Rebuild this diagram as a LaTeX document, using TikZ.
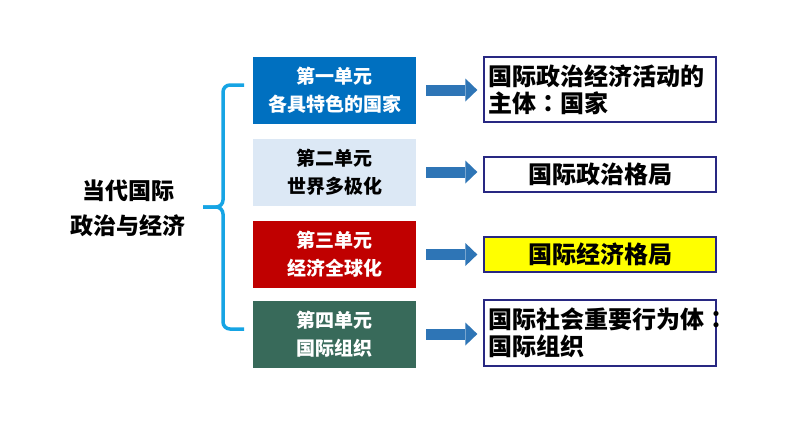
\documentclass[tikz,border=0pt]{standalone}
\usepackage{fontspec}
\setmainfont{Noto Sans CJK SC}
\newfontfamily\tcfont{Noto Sans CJK TC}
\usetikzlibrary{arrows.meta}
\definecolor{unitblue}{RGB}{0,112,192}
\definecolor{unitpale}{RGB}{220,232,245}
\definecolor{unitred}{RGB}{192,0,0}
\definecolor{unitgreen}{RGB}{56,106,90}
\definecolor{bracecyan}{RGB}{22,164,228}
\definecolor{arrowblue}{RGB}{46,117,182}
\definecolor{framenavy}{RGB}{40,40,130}
\definecolor{markyellow}{RGB}{255,255,0}
\newcommand{\midcolon}{{\tcfont ：}}

\begin{document}
\begin{tikzpicture}[x=1pt,y=-1pt,
  unit/.style={minimum width=163pt, minimum height=67pt, inner sep=0pt, align=center,
    font=\fontsize{19}{28}\selectfont\bfseries},
  topic/.style={draw=framenavy, line width=1.3pt, text width=224pt, inner xsep=4pt, inner ysep=0pt,
    font=\fontsize{24}{27}\selectfont\bfseries},
  link/.style={arrowblue, line width=11pt, -{Triangle[length=12pt,width=23pt,line width=0pt]},
    shorten <=10pt, shorten >=6pt},
  bracket/.style={bracecyan, line width=3.5pt, rounded corners=7pt}]
  \useasboundingbox (0,0) rectangle (794,447);
  % title
  \node[font=\fontsize{23}{35}\selectfont\bfseries, align=center] (title) at (128,208.5) {当代国际\\政治与经济};
  % brace
  \draw[bracket] (244,85) -- (223,85) -- (223,207) -- (203,207);
  \draw[bracket] (203,207) -- (223,207) -- (223,329) -- (244,329);
  % units
  \foreach \n/\y/\c/\t/\lab in {1/90/unitblue/white/{第一单元\\各具特色的国家},
                                2/172/unitpale/black/{第二单元\\世界多极化},
                                3/254.5/unitred/white/{第三单元\\经济全球化},
                                4/334/unitgreen/white/{第四单元\\国际组织}}
  {
    \node[unit, fill=\c, text=\t] (u\n) at (334.5,\y) {\lab};
  }
  % topics
  \node[topic, minimum height=65pt, align=left] (r1) at (600,89.5) {国际政治经济活动的\\主体\midcolon 国家};
  \node[topic, minimum height=35pt, align=center] (r2) at (600,174.5) {国际政治格局};
  \node[topic, minimum height=35pt, align=center, fill=markyellow] (r3) at (600,254.5) {国际经济格局};
  \node[topic, minimum height=66pt, align=left] (r4) at (600,333) {国际社会重要行为体\midcolon\\国际组织};
  % arrows
  \foreach \n in {1,...,4}
    \draw[link] (u\n.east) -- (u\n.east -| r\n.west);
\end{tikzpicture}
\end{document}
